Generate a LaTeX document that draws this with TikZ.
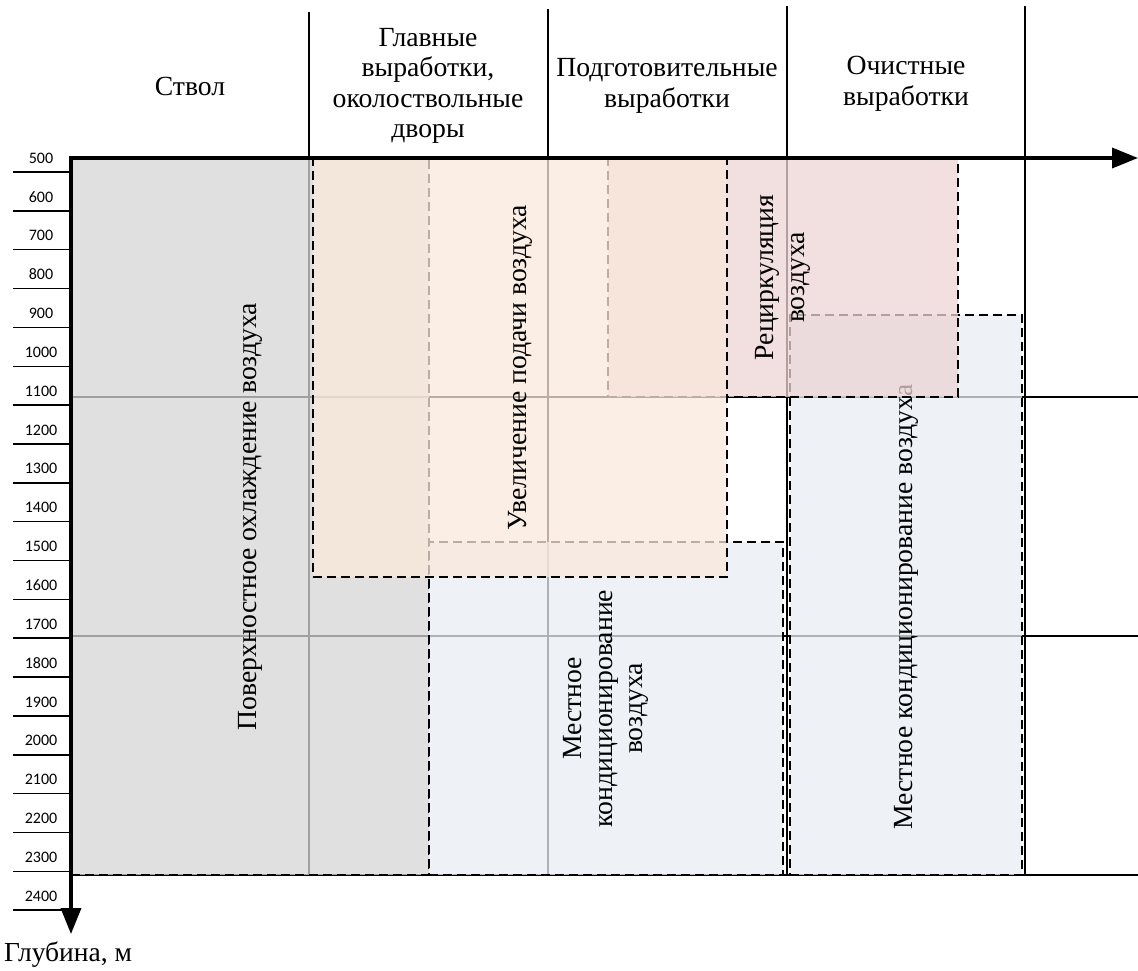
\documentclass[tikz,border=0pt]{standalone}
\usepackage{fontspec}
\setmainfont{Liberation Serif}
\newfontfamily\numfont{Carlito}
\usetikzlibrary{arrows.meta}
\definecolor{grayfill}{RGB}{214,214,214}
\definecolor{orangefill}{RGB}{250,232,219}
\definecolor{pinkfill}{RGB}{237,212,212}
\definecolor{bluefill}{RGB}{232,238,244}
\begin{document}
\begin{tikzpicture}[x=1pt,y=-1pt,
  gridline/.style={line width=1.2pt,black},
  zone/.style={draw=black,line width=1.5pt,dash pattern=on 9pt off 5pt,fill opacity=0.75,inner sep=0pt,outer sep=0pt,anchor=north west},
  lbl/.style={font=\fontsize{27.7}{30.5}\selectfont,align=center,inner sep=0pt},
  rlbl/.style={lbl,rotate=90},
  ticklbl/.style={font=\numfont\fontsize{16}{18}\selectfont,inner sep=0pt},
  tickline/.style={line width=1.5pt},
  axis/.style={line width=3.5pt,{Triangle[length=26pt,width=20pt]}-{Triangle[length=26pt,width=20pt]}}]
\useasboundingbox (0,0) rectangle (1138,970);
% grid
\draw[gridline] (309,12) -- (309,875);
\draw[gridline] (548,9) -- (548,875);
\draw[gridline] (787,6) -- (787,875);
\draw[gridline] (1025,6) -- (1025,875);
\draw[gridline] (71,397) -- (1138,397);
\draw[gridline] (71,636) -- (1138,636);
\draw[line width=1.8pt] (71,875) -- (1138,875);
% header
\node[lbl] (h1) at (190,86) {Ствол};
\node[lbl] (h2) at (428,86) {Главные\\выработки,\\околоствольные\\дворы};
\node[lbl] (h3) at (667,86) {Подготовительные\\выработки};
\node[lbl] (h4) at (906,84) {Очистные\\выработки};
% right blue box
\node[zone,fill=bluefill,minimum width=232pt,minimum height=560pt] (b2) at (790,315) {};
\node[rlbl] (t5) at ([yshift=-12pt]b2.center) {Местное кондиционирование воздуха};
% pink box
\node[zone,fill=pinkfill,minimum width=350pt,minimum height=239pt] (pk) at (608,158) {};
\node[rlbl] (t4) at (pk.center) {Рециркуляция\\воздуха};
% gray box
\node[zone,fill=grayfill,minimum width=358pt,minimum height=717pt] (gb) at (71,158) {};
\node[rlbl] (t1) at (gb.center) {Поверхностное охлаждение воздуха};
% middle blue box
\node[zone,fill=bluefill,minimum width=354pt,minimum height=333pt] (b1) at (429,542) {};
\node[rlbl] (t3) at (b1.center) {Местное\\кондиционирование\\воздуха};
% orange box
\node[zone,fill=orangefill,minimum width=414pt,minimum height=419pt] (ob) at (313,158) {};
\node[rlbl] (t2) at (ob.center) {Увеличение подачи воздуха};
% ticks
\foreach \v [count=\k from 0] in {500,600,700,800,900,1000,1100,1200,1300,1400,1500,1600,1700,1800,1900,2000,2100,2200,2300,2400}{
  \draw[tickline] (13,172+38.85*\k) -- (71,172+38.85*\k);
  \node[ticklbl] (n\v) at (41,158+38.85*\k) {\v};
}
% axes
\coordinate (xend) at (1138,158);
\coordinate (orig) at (71,158);
\coordinate (yend) at (71,934);
\draw[axis] (xend) -- (orig) -- (yend);
\node[font=\fontsize{27.5}{30}\selectfont,inner sep=0pt,anchor=west] (ylab) at (4,955) {Глубина, м};
\end{tikzpicture}
\end{document}
